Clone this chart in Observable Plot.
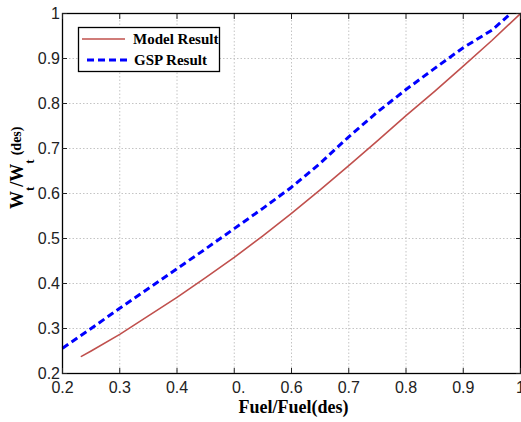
<!DOCTYPE html>
<html>
<head>
<meta charset="utf-8">
<script src="https://cdn.jsdelivr.net/npm/d3@7"></script>
<script src="https://cdn.jsdelivr.net/npm/@observablehq/plot@0.6"></script>
<style>
  html, body { margin: 0; padding: 0; background: #fff; }
</style>
</head>
<body>
<div id="chart"></div>
<script>
// ---- data ----
const modelX = [0.233, 0.25, 0.3, 0.35, 0.4, 0.45, 0.5, 0.55, 0.6, 0.65, 0.7, 0.75, 0.8, 0.85, 0.9, 0.95, 1.0];
const modelY = [0.238, 0.250, 0.287, 0.328, 0.369, 0.413, 0.458, 0.506, 0.556, 0.608, 0.662, 0.717, 0.773, 0.827, 0.883, 0.940, 1.0];
const gspX = [0.2, 0.25, 0.3, 0.35, 0.4, 0.45, 0.5, 0.55, 0.6, 0.65, 0.7, 0.75, 0.8, 0.85, 0.9, 0.95, 0.983];
const gspY = [0.256, 0.300, 0.345, 0.389, 0.433, 0.477, 0.522, 0.567, 0.614, 0.667, 0.726, 0.781, 0.831, 0.878, 0.924, 0.963, 1.0];
const xTicks = [0.2, 0.3, 0.4, 0.5, 0.6, 0.7, 0.8, 0.9, 1.0];
const xTickLabels = ["0.2", "0.3", "0.4", "\u20070.", "0.6", "0.7", "0.8", "0.9", "1"];
const yTicks = [0.2, 0.3, 0.4, 0.5, 0.6, 0.7, 0.8, 0.9, 1.0];
const yTickLabels = ["0.2", "0.3", "0.4", "0.5", "0.6", "0.7", "0.8", "0.9", "1"];
const seriesNames = ["Model Result", "GSP Result"];
const seriesColors = ["#c0504d", "#0000ff"];
const xTitle = "Fuel/Fuel(des)";

const model = modelX.map((x, i) => ({x, y: modelY[i]}));
const gsp = gspX.map((x, i) => ({x, y: gspY[i]}));

const sans = "'Liberation Sans', Arial, Helvetica, sans-serif";
const serif = "'Liberation Serif', 'Times New Roman', serif";

const plot = Plot.plot({
  width: 521,
  height: 422,
  marginLeft: 62,
  marginRight: 1,
  marginTop: 13,
  marginBottom: 49,
  style: {fontFamily: sans, fontSize: "16px", background: "#fff", color: "#222"},
  x: {domain: [0.2, 1.0]},
  y: {domain: [0.2, 1.0]},
  marks: [
    Plot.gridX(xTicks, {stroke: "#c4c4c4", strokeOpacity: 1, strokeDasharray: "1.5,2"}),
    Plot.gridY(yTicks, {stroke: "#c4c4c4", strokeOpacity: 1, strokeDasharray: "1.5,2"}),
    Plot.line(model, {x: "x", y: "y", stroke: seriesColors[0], strokeWidth: 1.6}),
    Plot.line(gsp, {x: "x", y: "y", stroke: seriesColors[1], strokeWidth: 3, strokeDasharray: "7,4", strokeLinecap: "butt"}),
    Plot.frame({stroke: "#000", strokeWidth: 1.3}),
    Plot.axisX(xTicks, {anchor: "bottom", tickSize: -5, tickPadding: 13.5, label: null,
      tickFormat: (d, i) => xTickLabels[xTicks.indexOf(d)], fontSize: 16}),
    Plot.axisX(xTicks, {anchor: "top", tickSize: -5, label: null, tickFormat: () => ""}),
    Plot.axisY(yTicks, {anchor: "left", tickSize: -5, tickPadding: 7.5, label: null,
      tickFormat: (d) => yTickLabels[yTicks.indexOf(d)], fontSize: 16}),
    Plot.axisY(yTicks, {anchor: "right", tickSize: -5, label: null, tickFormat: () => ""}),
    Plot.text([xTitle], {frameAnchor: "bottom", dy: 34, dx: 2, lineAnchor: "middle",
      fontFamily: serif, fontWeight: "bold", fontSize: 18, fill: "#000"})
  ]
});

document.getElementById("chart").appendChild(plot);

const svg = d3.select(plot);

// y-axis title with subscripts
const yt = svg.append("text")
  .attr("transform", "translate(23,209) rotate(-90)")
  .attr("text-anchor", "start")
  .attr("font-family", serif)
  .attr("font-weight", "bold")
  .attr("font-size", 18)
  .attr("fill", "#000");
yt.append("tspan").text("W");
yt.append("tspan").attr("font-size", 13).attr("dy", 10.5).text("t");
yt.append("tspan").attr("dy", -10.5).text("/W");
yt.append("tspan").attr("font-size", 13).attr("dy", 10.5).text("t");
yt.append("tspan").attr("font-size", 14).attr("dy", -13).attr("dx", 4).text("(des)");

// legend
const lg = svg.append("g");
lg.append("rect").attr("x", 78.5).attr("y", 27.5).attr("width", 141).attr("height", 44)
  .attr("fill", "#fff").attr("stroke", "#000").attr("stroke-width", 1.3);
lg.append("line").attr("x1", 82).attr("x2", 125).attr("y1", 39).attr("y2", 39)
  .attr("stroke", seriesColors[0]).attr("stroke-width", 1.6);
lg.append("line").attr("x1", 87).attr("x2", 127).attr("y1", 60).attr("y2", 60)
  .attr("stroke", seriesColors[1]).attr("stroke-width", 3).attr("stroke-dasharray", "7,4");
lg.append("text").attr("x", 133).attr("y", 44).text(seriesNames[0]).attr("text-anchor", "start")
  .attr("font-family", serif).attr("font-weight", "bold").attr("font-size", 15).attr("fill", "#000");
lg.append("text").attr("x", 134).attr("y", 65).text(seriesNames[1]).attr("text-anchor", "start")
  .attr("font-family", serif).attr("font-weight", "bold").attr("font-size", 15).attr("fill", "#000");
</script>
</body>
</html>
